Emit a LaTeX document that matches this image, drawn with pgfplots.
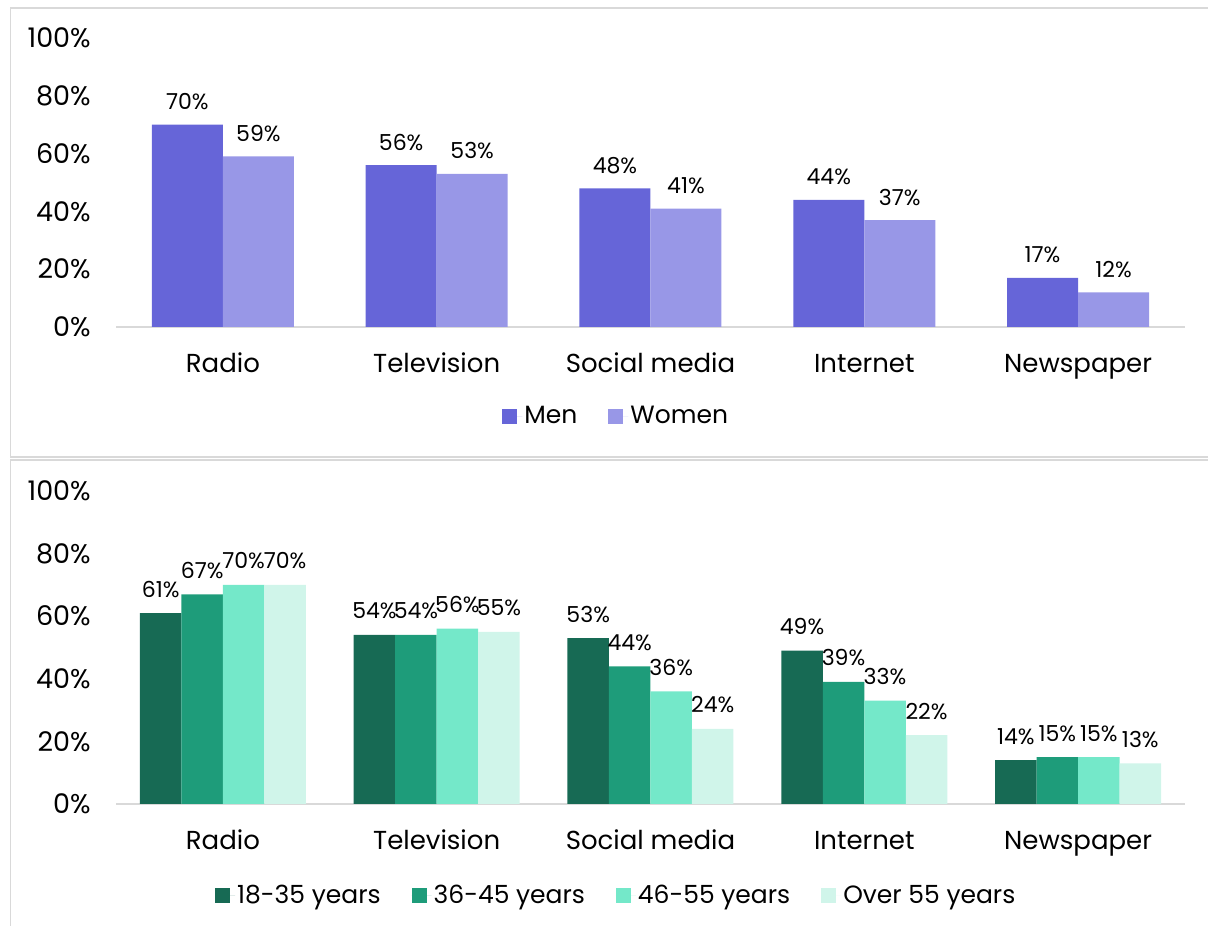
\documentclass[border=0pt]{standalone}
\usepackage{pgfplots}
\pgfplotsset{compat=1.18}
\usepackage{fontspec}
\setmainfont{Poppins}
\definecolor{men}{RGB}{102,101,216}
\definecolor{women}{RGB}{152,151,231}
\definecolor{ga}{RGB}{23,106,84}
\definecolor{gb}{RGB}{30,156,122}
\definecolor{gc}{RGB}{116,232,201}
\definecolor{gd}{RGB}{208,245,234}
\definecolor{framegray}{RGB}{217,217,217}
\pgfplotsset{
  sqleg/.style={legend image code/.code={\fill[##1] (0pt,-7.5pt) rectangle (15pt,7.5pt); \path (0pt,0pt) -- (20pt,0pt);}},
  common/.style={
    scale only axis,
    ybar=0pt,
    ymin=0, ymax=100,
    xmin=-0.5, xmax=4.5,
    xtick={0,1,2,3,4},
    xticklabels={Radio,Television,Social media,Internet,Newspaper},
    ytick={0,20,40,60,80,100},
    yticklabel={\pgfmathprintnumber{\tick}\%},
    /pgf/number format/assume math mode=true,
    axis x line=bottom, axis y line=left,
    axis line style={-},
    y axis line style={draw=none},
    x axis line style={draw=framegray, line width=1.5pt},
    tick style={draw=none},
    ticklabel style={font=\fontsize{27}{32}\selectfont},
    yticklabel style={inner sep=0pt, anchor=east, xshift=-23pt},
    xticklabel style={inner sep=0pt, anchor=base, yshift=-43pt, font=\fontsize{26}{31}\selectfont},
    nodes near coords={\pgfmathprintnumber{\pgfplotspointmeta}\%},
    every node near coord/.append style={font=\fontsize{22}{26}\selectfont, anchor=base, inner sep=0pt, text=black},
    legend columns=-1,
    legend style={draw=none, fill=none, font=\fontsize{25}{30}\selectfont,
      /tikz/every even column/.append style={column sep=29pt}},
  }
}
\begin{document}
\begin{tikzpicture}[x=1pt,y=1pt]
\path[use as bounding box] (0,0) rectangle (1208,926);
\draw[framegray, line width=1.5pt] (10.5,469) rectangle (1215,918);
\draw[framegray, line width=1.5pt] (10.5,-5) rectangle (1215,466);

\begin{axis}[common, at={(116pt,599pt)}, anchor=south west,
  width=1069pt, height=289pt, bar width=71pt,
  every node near coord/.append style={yshift=15pt},
  legend style={at={(0.468,-0.308)}, anchor=center}]
\addplot[fill=men, draw=none, sqleg] coordinates {(0,70) (1,56) (2,48) (3,44) (4,17)};
\addplot[fill=women, draw=none, sqleg] coordinates {(0,59) (1,53) (2,41) (3,37) (4,12)};
\legend{Men, Women}
\end{axis}

\begin{axis}[common, at={(116pt,122pt)}, anchor=south west,
  width=1069pt, height=313pt, bar width=41.5pt,
  every node near coord/.append style={yshift=16pt},
  legend style={at={(0.468,-0.291)}, anchor=center}]
\addplot[fill=ga, draw=none, sqleg] coordinates {(0,61) (1,54) (2,53) (3,49) (4,14)};
\addplot[fill=gb, draw=none, sqleg] coordinates {(0,67) (1,54) (2,44) (3,39) (4,15)};
\addplot[fill=gc, draw=none, sqleg] coordinates {(0,70) (1,56) (2,36) (3,33) (4,15)};
\addplot[fill=gd, draw=none, sqleg] coordinates {(0,70) (1,55) (2,24) (3,22) (4,13)};
\legend{18-35 years, 36-45 years, 46-55 years, Over 55 years}
\end{axis}
\end{tikzpicture}
\end{document}
